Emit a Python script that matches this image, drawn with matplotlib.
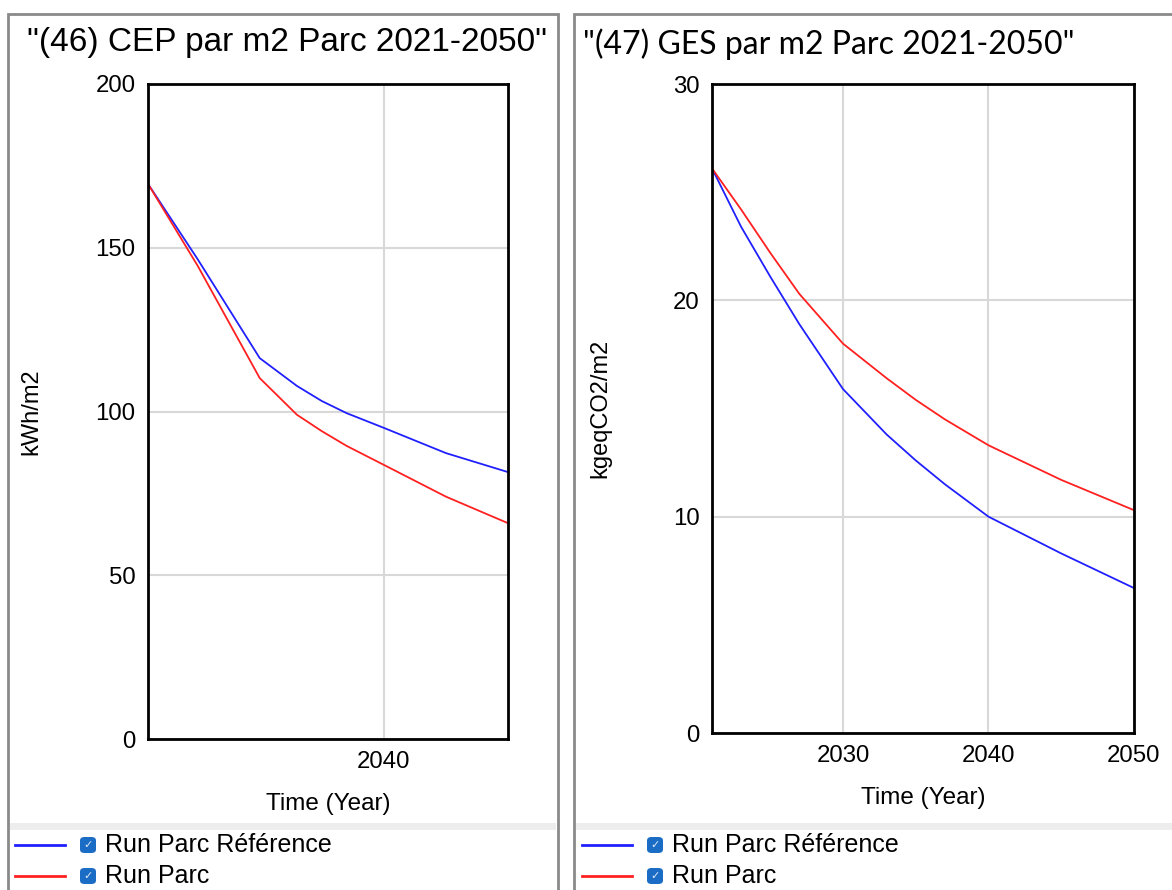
import matplotlib.pyplot as plt
from matplotlib.patches import Rectangle, FancyBboxPatch
from matplotlib.lines import Line2D

# CEP (kWh/m2) - left panel
cep_years = [2021, 2025, 2030, 2033, 2035, 2037, 2040, 2045, 2050]
cep_reference = [169.5, 146.5, 116.3, 107.8, 103.2, 99.5, 95.0, 87.3, 81.5]
cep_run = [169.5, 144.5, 110.2, 99.0, 94.0, 89.5, 83.7, 74.0, 65.9]

# GES (kgeqCO2/m2) - right panel
ges_years = [2021, 2023, 2025, 2027, 2030, 2033, 2035, 2037, 2040, 2045, 2050]
ges_reference = [26.1, 23.4, 21.1, 18.9, 15.9, 13.8, 12.6, 11.5, 10.0, 8.3, 6.7]
ges_run = [26.1, 24.2, 22.2, 20.3, 18.0, 16.4, 15.4, 14.5, 13.3, 11.7, 10.3]

series_labels = ["Run Parc Référence", "Run Parc"]
series_colors = ["#2020ff", "#ff2020"]

W, H = 1172, 890
fig = plt.figure(figsize=(W / 100, H / 100), dpi=100)
plt.rcParams['font.family'] = ['Liberation Sans', 'DejaVu Sans']


def px_box(x0, y0, x1, y1):
    return [x0 / W, 1 - y1 / H, (x1 - x0) / W, (y1 - y0) / H]


def fx(x):
    return x / W


def fy(y):
    return 1 - y / H


# panel frames
for x0, x1 in [(8, 558), (574, 1180)]:
    fig.patches.append(Rectangle((fx(x0), fy(900)), fx(x1 - x0), fy(14) - fy(900),
                                 transform=fig.transFigure, fill=False,
                                 edgecolor="#8a8a8a", linewidth=2))
    # separator band above legend
    fig.patches.append(Rectangle((fx(x0 + 2), fy(830)), fx(x1 - x0 - 4), fy(823) - fy(830),
                                 transform=fig.transFigure, facecolor="#ededed",
                                 edgecolor="none"))


def style_axes(ax):
    for s in ax.spines.values():
        s.set_linewidth(2)
        s.set_color("black")
    ax.grid(True, color="#d8d8d8", linewidth=1.5)
    ax.set_axisbelow(True)
    ax.tick_params(length=0, labelsize=17.3, pad=9)
    ax.set_xlabel("Time (Year)", fontsize=17.5, labelpad=14)


# left chart
ax1 = fig.add_axes(px_box(148, 84, 508, 739))
ax1.plot(cep_years, cep_reference, color=series_colors[0], linewidth=1.3)
ax1.plot(cep_years, cep_run, color=series_colors[1], linewidth=1.3)
ax1.set_xlim(2021, 2050)
ax1.set_ylim(0, 200)
ax1.set_xticks([2040])
ax1.set_yticks([0, 50, 100, 150, 200])
style_axes(ax1)
ax1.set_ylabel("kWh/m2", fontsize=17, labelpad=38)
fig.text(fx(287), fy(42), '"(46) CEP par m2 Parc 2021-2050"', fontsize=24,
         ha="center", va="center")

# right chart
ax2 = fig.add_axes(px_box(712, 84, 1134, 733))
ax2.plot(ges_years, ges_reference, color=series_colors[0], linewidth=1.3)
ax2.plot(ges_years, ges_run, color=series_colors[1], linewidth=1.3)
ax2.set_xlim(2021, 2050)
ax2.set_ylim(0, 30)
ax2.set_xticks([2030, 2040, 2050])
ax2.set_yticks([0, 10, 20, 30])
style_axes(ax2)
ax2.set_ylabel("kgeqCO2/m2", fontsize=17, labelpad=44)
fig.text(fx(583), fy(44), '"(47) GES par m2 Parc 2021-2050"', fontsize=23,
         ha="left", va="center", family=["Lato", "DejaVu Sans"])

# legends with check boxes
for lx in [15, 582]:
    for i, (lab, col) in enumerate(zip(series_labels, series_colors)):
        y = 845 + i * 31
        fig.lines.append(Line2D([fx(lx), fx(lx + 50)], [fy(y), fy(y)],
                                transform=fig.transFigure, color=col, linewidth=2))
        bx = lx + 65
        fig.patches.append(FancyBboxPatch((fx(bx), fy(y + 8)), fx(16), fy(y - 8) - fy(y + 8),
                                          boxstyle="round,pad=0,rounding_size=0.004",
                                          transform=fig.transFigure,
                                          facecolor="#1a6cc4", edgecolor="none"))
        fig.text(fx(bx + 8), fy(y), "✓", color="#dfe9f7", fontsize=8,
                 ha="center", va="center", family=["DejaVu Sans"])
        fig.text(fx(lx + 90), fy(y), lab, fontsize=18, ha="left", va="center")

fig.savefig("out.png", dpi=100)
